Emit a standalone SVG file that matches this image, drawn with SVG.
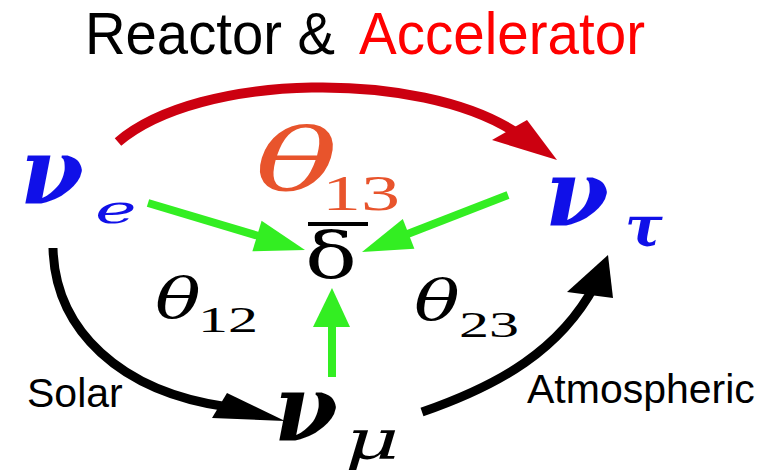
<svg xmlns="http://www.w3.org/2000/svg" width="771" height="473" viewBox="0 0 771 473">
<style>
.title{font-family:"Liberation Sans",Arial,sans-serif;font-size:60px}
.lbl{font-family:"Liberation Sans",Arial,sans-serif;font-size:41px;fill:#000}
.nu{font-family:"DejaVu Serif",serif;font-style:italic;font-weight:bold;font-size:92px}
.gk{font-family:"DejaVu Serif",serif;font-style:italic}
.up{font-family:"DejaVu Serif",serif;font-style:normal}
.num{font-family:"Liberation Serif","Times New Roman",serif}
.blk{fill:none;stroke:#000;stroke-width:9}
.grn{fill:none;stroke:#33ee22;stroke-width:8}
</style>
<rect width="771" height="473" fill="#fff"/>
<g id="title"><text class="title" x="85" y="54" textLength="250" lengthAdjust="spacingAndGlyphs">Reactor &amp;</text><text class="title" x="359" y="54" fill="#ff0000" textLength="286" lengthAdjust="spacingAndGlyphs">Accelerator</text></g>
<g id="connectors">
  <path d="M118,142 C200,72 420,70 515,132" fill="none" stroke="#cc0010" stroke-width="10"/>
  <polygon points="492,140 527,120 557,160" fill="#cc0010"/>
  <path class="blk" d="M53,248 C55,330 120,392 228,407"/>
  <polygon points="227,393 212,418 285,421" fill="#000"/>
  <path class="blk" d="M422,412 C500,385 560,350 595,285"/>
  <polygon points="567,292 613,298 608,255" fill="#000"/>
  <line class="grn" x1="148" y1="203" x2="262" y2="237"/>
  <polygon points="261.6,220.7 252.4,251.3 305,250" fill="#33ee22"/>
  <line class="grn" x1="508" y1="195" x2="405" y2="235"/>
  <polygon points="402.8,218.9 414.4,248.7 362,252" fill="#33ee22"/>
  <line class="grn" x1="332" y1="377" x2="332" y2="320"/>
  <polygon points="313,327 350,327 332,288" fill="#33ee22"/>
</g>
<g id="nu_e"><text class="nu" x="20" y="203" fill="#1010e8">ν</text><text class="gk" transform="translate(95,223) scale(1.76,1)" font-size="40" fill="#1010e8">e</text></g>
<g id="nu_tau"><text class="nu" x="545" y="225" fill="#1010e8">ν</text><text class="gk" x="625" y="246" font-size="56" font-weight="bold" fill="#1010e8">τ</text></g>
<g id="nu_mu"><text class="nu" x="274" y="440" fill="#000">ν</text><text class="gk" transform="translate(345,459) scale(1.55,1)" font-size="54" fill="#000">μ</text></g>
<g id="theta13"><text class="gk" transform="translate(255,190) scale(1.6,1)" font-size="86" fill="#e8542c">θ</text><text class="num" x="322" y="210" font-size="50" textLength="78" lengthAdjust="spacingAndGlyphs" fill="#e8542c">13</text></g>
<g id="delta"><line x1="308" y1="224" x2="368" y2="224" stroke="#000" stroke-width="4"/><text class="up" transform="translate(305,277) scale(1.35,1)" font-size="64" fill="#000">δ</text></g>
<g id="theta12"><text class="gk" transform="translate(155,318) scale(1.36,1)" font-size="56" fill="#000">θ</text><text class="num" x="198" y="332" font-size="36" textLength="60" lengthAdjust="spacingAndGlyphs" fill="#000">12</text></g>
<g id="theta23"><text class="gk" transform="translate(414,320) scale(1.36,1)" font-size="56" fill="#000">θ</text><text class="num" x="459" y="337" font-size="36" textLength="60" lengthAdjust="spacingAndGlyphs" fill="#000">23</text></g>
<g id="solar"><text class="lbl" x="27" y="407">Solar</text></g>
<g id="atmospheric"><text class="lbl" x="527" y="403">Atmospheric</text></g>
</svg>
